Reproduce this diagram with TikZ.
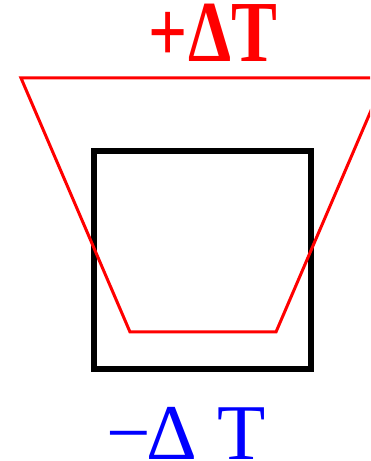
\documentclass[tikz,border=0pt]{standalone}
\usepackage{fontspec}
\setmainfont{Liberation Serif}
\begin{document}
\begin{tikzpicture}[x=1pt,y=1pt,
  box/.style={draw=black,line width=6pt,line join=miter},
  cool/.style={draw=red,line width=3pt,line join=miter},
  lbl/.style={inner sep=0pt,anchor=base,font=\fontsize{79}{79}\selectfont}]
\useasboundingbox (0,0) rectangle (370,461);
\clip (0,0) rectangle (370,461);
% black square
\node[box,minimum width=217pt,minimum height=218pt,inner sep=0pt] (sq) at (202.5,201) {};
% red trapezoid
\coordinate (tl) at (21,383);
\coordinate (tr) at (385,383);
\coordinate (br) at (276,129);
\coordinate (bl) at (130,129);
\draw[cool] (tl) -- (tr) -- (br) -- (bl) -- cycle;
% labels
\node[lbl,text=red,font=\fontsize{87}{87}\selectfont\bfseries,xscale=0.79] (top) at (213,399) {+ΔT};
\node[lbl,text=blue] (bot) at (186,1.5) {−\kern-4ptΔ T};
\end{tikzpicture}
\end{document}
